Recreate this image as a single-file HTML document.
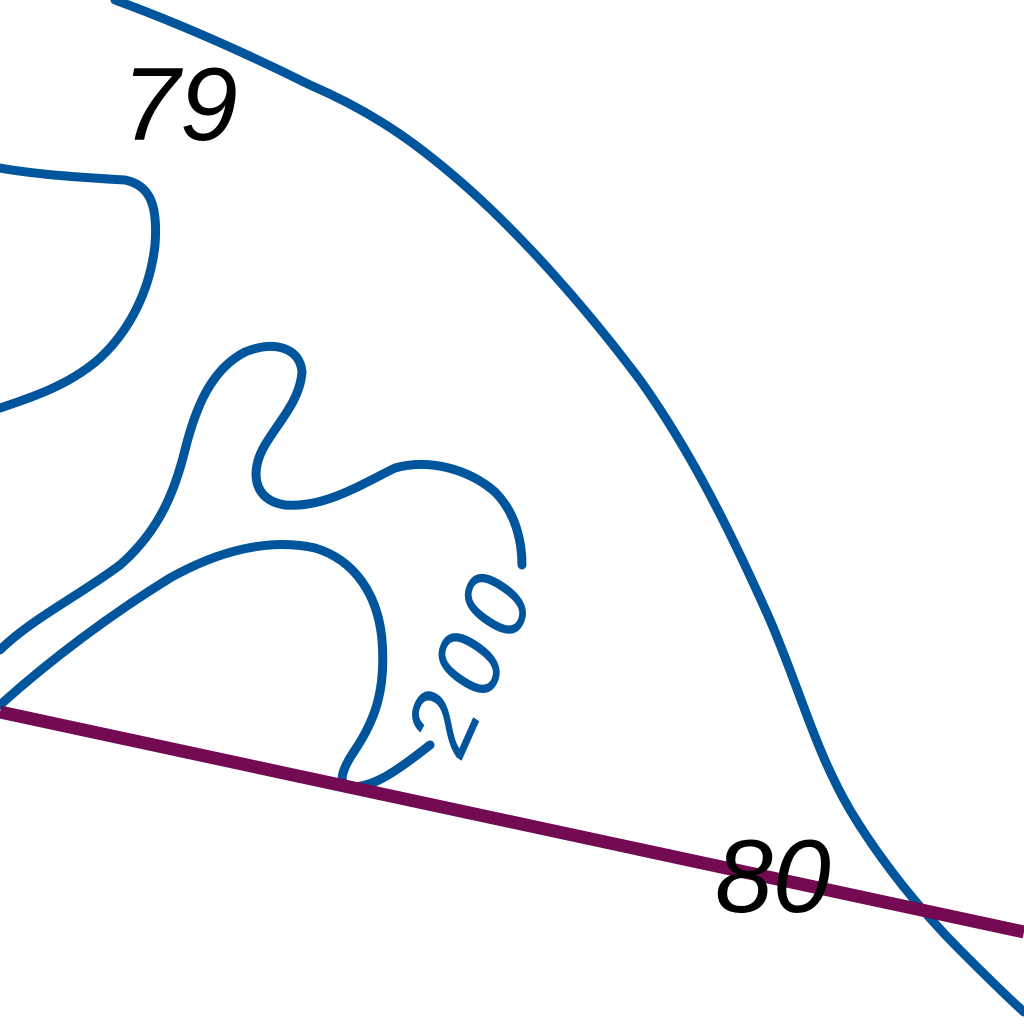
<!DOCTYPE html>
<html><head><meta charset="utf-8"><style>html,body{margin:0;padding:0;background:#fff;}svg{display:block}</style></head>
<body>
<svg width="1024" height="1024" viewBox="0 0 1024 1024">
<rect width="1024" height="1024" fill="#fff"/>
<g fill="none" stroke="#00559c" stroke-width="9" stroke-linecap="round" stroke-linejoin="round">
<path d="M115,0 C170,20 240,50 310,85 C380,115 425,150 470,190 C520,235 580,300 640,380 C690,450 730,530 770,620 C800,690 815,750 850,810 C880,860 920,910 960,950 C985,975 1005,995 1024,1012"/>
<path d="M0,168 C40,175 90,178 125,180 C150,185 158,205 155,245 C150,290 130,330 100,358 C70,385 30,398 0,408"/>
<path d="M0,650 C30,620 80,595 120,565 C160,530 175,490 185,450 C195,410 210,370 245,352 C275,340 300,348 302,372 C300,400 280,420 265,445 C250,470 252,500 285,505 C325,508 360,485 395,468 C430,458 470,470 495,492 C515,512 522,540 522,565"/>
<path d="M0,705 C50,660 110,615 170,578 C220,550 270,538 315,548 C355,560 378,595 382,640 C386,690 375,720 355,750 C340,772 338,785 350,787 C375,788 400,768 430,745"/>
</g>
<path d="M0,712 L1024,932" stroke="#730a52" stroke-width="13" fill="none"/>
<text x="0" y="0" transform="translate(478,662) rotate(-66) skewX(-10)" text-anchor="middle" dominant-baseline="middle" font-family="Liberation Sans, sans-serif" font-size="95" letter-spacing="12" fill="#00559c">200</text>
<text x="122" y="140" font-family="Liberation Sans, sans-serif" font-style="italic" font-size="104" fill="#000">79</text>
<text x="715" y="912" font-family="Liberation Sans, sans-serif" font-style="italic" font-size="104" fill="#000">80</text>
</svg>
</body></html>
